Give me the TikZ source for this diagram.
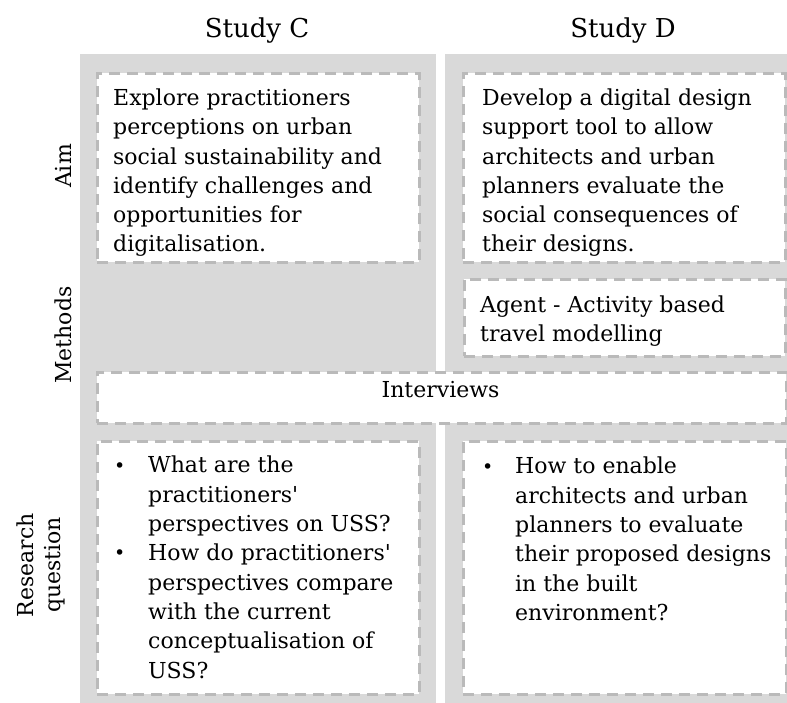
\documentclass[tikz,border=0pt]{standalone}
\usepackage{fontspec}
\setmainfont{DejaVu Serif}
\definecolor{panel}{HTML}{D9D9D9}
\definecolor{dashgray}{HTML}{BABABA}
\tikzset{
  panelbg/.style={fill=panel, draw=none},
  dbox/.style={draw=dashgray, fill=white, line width=2.8pt,
    dash pattern=on 11pt off 7pt, inner sep=0pt, anchor=north west},
  body/.style={inner sep=0pt, anchor=north west, align=left,
    font=\fontsize{22}{29.3}\selectfont},
  bulletmark/.style={inner sep=0pt, anchor=base west,
    font=\fontsize{19}{22}\selectfont},
  heading/.style={inner sep=0pt, anchor=base, font=\fontsize{26}{30}\selectfont},
  rowlabel/.style={inner sep=0pt, anchor=center, rotate=90, align=center,
    font=\fontsize{22}{27}\selectfont},
}
\newcommand{\sq}{\textquotesingle}
\begin{document}
\begin{tikzpicture}[x=1pt, y=-1pt]
  \useasboundingbox (0,0) rectangle (787,702);

  % grey column panels
  \fill[panelbg] (80,54) rectangle (436,706);
  \fill[panelbg] (445,54) rectangle (792,706);

  % column headings
  \node[heading] (studyC) at (257,37) {Study C};
  \node[heading] (studyD) at (623,37) {Study D};

  % row labels
  \node[rowlabel] (aimlbl) at (63.5,166) {Aim};
  \node[rowlabel] (methlbl) at (63,335) {Methods};
  \node[rowlabel] (rqlbl) at (41,565) {Research\\question};

  % dashed boxes
  \node[dbox, minimum width=322pt, minimum height=189pt] (aimC) at (96,72) {};
  \node[dbox, minimum width=322pt, minimum height=189pt] (aimD) at (462,72) {};
  \node[dbox, minimum width=321pt, minimum height=77pt] (agent) at (463,278) {};
  \node[dbox, minimum width=689pt, minimum height=51pt] (interviews) at (96,371) {};
  \node[dbox, minimum width=322pt, minimum height=253pt] (rqC) at (96,440) {};
  \node[dbox, minimum width=323pt, minimum height=253pt] (rqD) at (462,440) {};

  % box texts
  \node[body] (aimCtext) at (113,88.5) {Explore practitioners\\perceptions on urban\\social sustainability and\\identify challenges and\\opportunities for\\digitalisation.};
  \node[body] (aimDtext) at (482,88.5) {Develop a digital design\\support tool to allow\\architects and urban\\planners evaluate the\\social consequences of\\their designs.};
  \node[body] (agenttext) at (480,295.5) {Agent - Activity based\\travel modelling};
  \node[inner sep=0pt, anchor=base, font=\fontsize{22}{29.3}\selectfont] (intertext) at (440.5,397) {Interviews};

  \node[bulletmark] (bulC1) at (114,472) {•};
  \node[bulletmark] (bulC2) at (114,559.9) {•};
  \node[body] (rqCtext) at (148,456) {What are the\\practitioners\sq\\perspectives on USS?\\How do practitioners\sq\\perspectives compare\\with the current\\conceptualisation of\\USS?};

  \node[bulletmark] (bulD1) at (482,473) {•};
  \node[body] (rqDtext) at (515,457) {How to enable\\architects and urban\\planners to evaluate\\their proposed designs\\in the built\\environment?};
\end{tikzpicture}
\end{document}
